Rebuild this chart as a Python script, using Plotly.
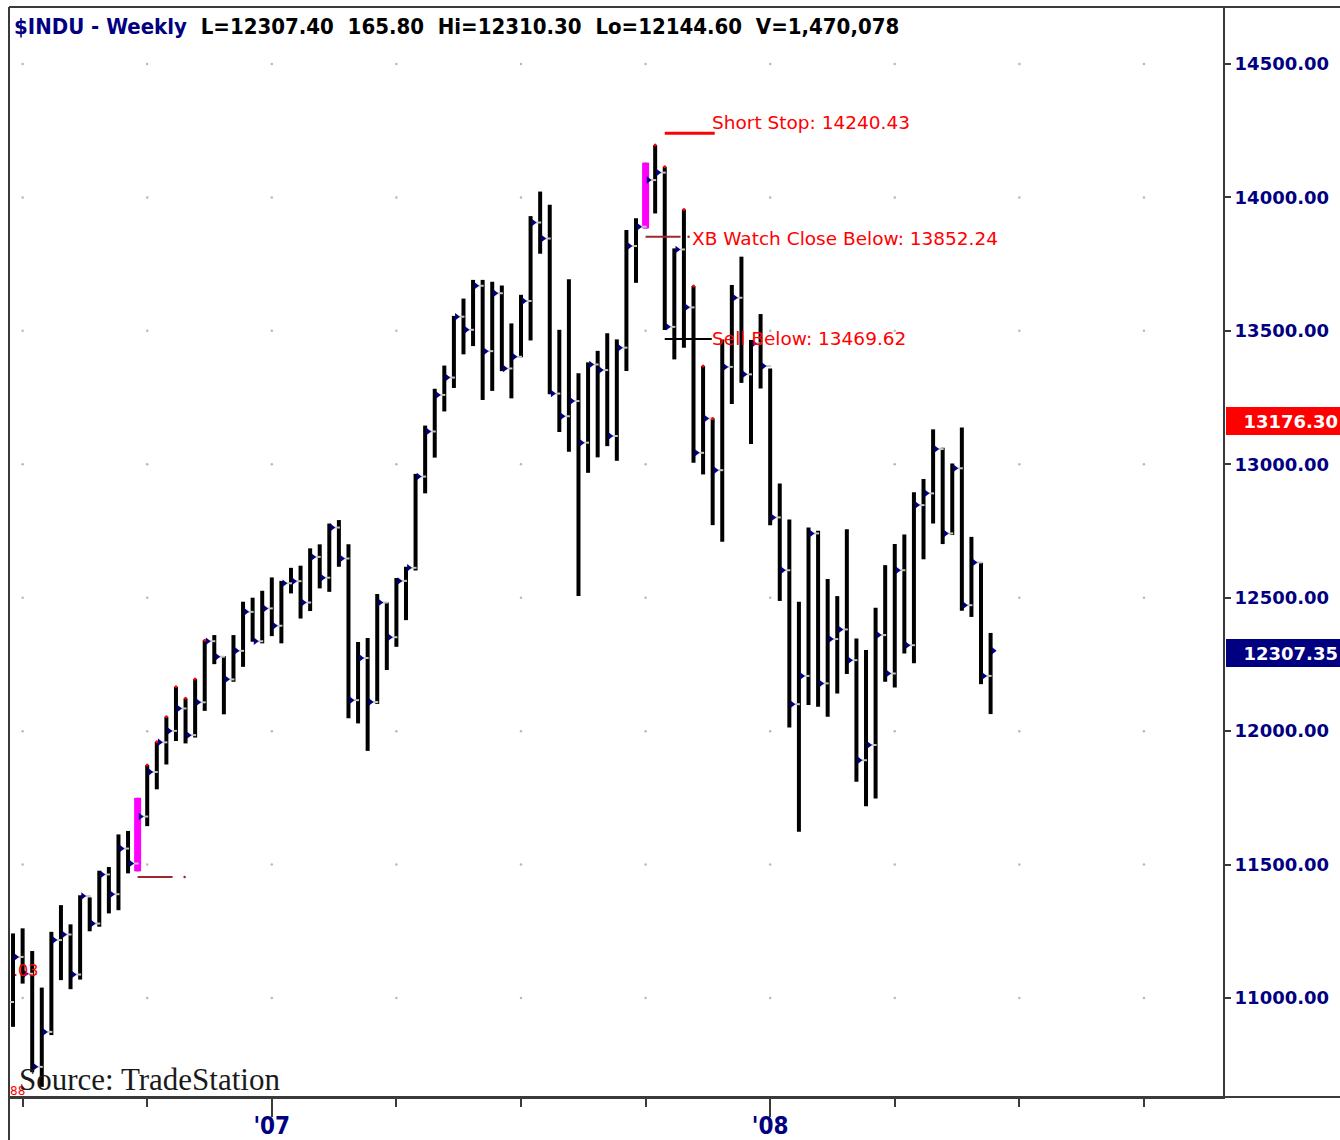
import pandas as pd
import plotly.graph_objects as go

# weekly $INDU bars, week ending Friday
weeks = pd.date_range("2006-06-30", periods=103, freq="W-FRI")

highs = [11242, 11261, 11176, 11039, 11248, 11348, 11276, 11385, 11377, 11477,
         11491, 11613, 11626, 11750, 11873, 11960, 12054, 12166, 12123, 12195,
         12341, 12360, 12281, 12360, 12485, 12500, 12526, 12576, 12563, 12612,
         12620, 12685, 12700, 12778, 12791, 12700, 12334, 12349, 12514, 12482,
         12574, 12616, 12964, 13145, 13283, 13370, 13556, 13621, 13691, 13691,
         13684, 13670, 13528, 13635, 13930, 14022, 13973, 13504, 13693, 13341,
         13382, 13425, 13491, 13468, 13878, 13922, 14130, 14196, 14115, 13809,
         13955, 13668, 13368, 13172, 13468, 13672, 13778, 13466, 13563, 13359,
         12928, 12793, 12485, 12763, 12751, 12570, 12506, 12757, 12347, 12304,
         12462, 12622, 12701, 12737, 12895, 12945, 13131, 13062, 13003, 13138,
         12728, 12631, 12368]
lows = [10892, 11054, 10722, 10667, 10861, 11067, 11033, 11069, 11250, 11267,
        11317, 11329, 11467, 11475, 11644, 11782, 11875, 11963, 11954, 11976,
        12076, 12251, 12063, 12185, 12241, 12335, 12329, 12356, 12329, 12516,
        12422, 12450, 12535, 12522, 12616, 12048, 12029, 11926, 12102, 12229,
        12316, 12416, 12602, 12891, 13025, 13198, 13286, 13412, 13443, 13241,
        13275, 13349, 13247, 13401, 13464, 13789, 13262, 13121, 13047, 12506,
        12968, 13026, 13068, 13013, 13350, 13680, 13884, 13940, 13503, 13393,
        13437, 13006, 12962, 12772, 12710, 13226, 13305, 13076, 13284, 12772,
        12488, 12014, 11623, 12098, 12091, 12054, 12141, 12214, 11810, 11719,
        11748, 12185, 12164, 12291, 12254, 12644, 12778, 12701, 12735, 12451,
        12428, 12176, 12064]
closes = [11154, 11091, 10742, 10873, 11217, 11238, 11088, 11382, 11279, 11463,
          11389, 11560, 11504, 11680, 11847, 11958, 12001, 12085, 11985, 12108,
          12337, 12279, 12194, 12301, 12447, 12337, 12460, 12395, 12554, 12562,
          12482, 12653, 12575, 12763, 12647, 12116, 12274, 12109, 12482, 12352,
          12563, 12612, 12954, 13123, 13260, 13325, 13553, 13504, 13669, 13424,
          13641, 13359, 13403, 13612, 13906, 13846, 13265, 13180, 13237, 13081,
          13374, 13353, 13106, 13437, 13818, 13890, 14065, 14093, 13515, 13805,
          13588, 13043, 13172, 12978, 13365, 13624, 13337, 13453, 13368, 12801,
          12603, 12101, 12207, 12741, 12179, 12345, 12381, 12266, 11891, 11948,
          12360, 12216, 12603, 12322, 12847, 12891, 13057, 12741, 12985, 12472,
          12632, 12207, 12301]
opens = [10985, 11154, 11091, 10742, 10873, 11217, 11238, 11088, 11382, 11279,
         11463, 11389, 11560, 11504, 11680, 11847, 11958, 12001, 12085, 11985,
         12108, 12337, 12279, 12194, 12301, 12447, 12337, 12460, 12395, 12554,
         12562, 12482, 12653, 12575, 12763, 12647, 12116, 12274, 12109, 12482,
         12352, 12563, 12612, 12954, 13123, 13260, 13325, 13553, 13504, 13669,
         13424, 13641, 13359, 13403, 13612, 13906, 13846, 13265, 13180, 13237,
         13081, 13374, 13353, 13106, 13437, 13818, 13890, 14065, 14093, 13515,
         13805, 13588, 13043, 13172, 12978, 13365, 13624, 13337, 13453, 13368,
         12801, 12603, 12101, 12207, 12741, 12179, 12345, 12381, 12266, 11891,
         11948, 12360, 12216, 12603, 12322, 12847, 12891, 13057, 12741, 12985,
         12472, 12632, 12207]

paint_bars = [13, 66]  # magenta ShowMe bars
high_dots = [14, 15, 16, 17, 18, 19, 20, 67, 68, 70, 71, 72, 73]

price_levels = [11000, 11500, 12000, 12500, 13000, 13500, 14000, 14500]
quarter_ticks = ["2006-07-07", "2006-10-06", "2007-01-05", "2007-04-06", "2007-07-06",
                 "2007-10-05", "2008-01-04", "2008-04-04", "2008-07-04", "2008-10-03"]
year_ticks = ["2007-01-05", "2008-01-04"]
year_labels = ["'07", "'08"]

xb_old = 11453.50
xb_watch = 13852.24
short_stop = 14240.43
sell_below = 13469.62
marker_price = 13176.30
last_price = 12307.35

header = ('<span style="color:#000080">$INDU - Weekly</span>\u00a0\u00a0'
          'L=12307.40\u00a0\u00a0165.80\u00a0\u00a0Hi=12310.30\u00a0\u00a0'
          'Lo=12144.60\u00a0\u00a0V=1,470,078')

# ---- geometry (pixels of the 1340x1140 page)
W, H = 1340, 1140
L_PX, R_PX, T_PX, B_PX = 9, 1223, 7, 1097
PX_DAY = 9.584 / 7
ref = pd.Timestamp("2007-01-05")
REF_PX = 271.8
x_range = [ref - pd.Timedelta(days=(REF_PX - L_PX) / PX_DAY),
           ref + pd.Timedelta(days=(R_PX - REF_PX) / PX_DAY)]
pts_px = 3500 / 934
y_range = [11000 - (B_PX - 998) * pts_px, 14500 + (64 - T_PX) * pts_px]


def dpx(px):
    return pd.Timedelta(days=px / PX_DAY)


def px_x(px):
    return (px - L_PX) / (R_PX - L_PX)


def px_y(py):
    return (B_PX - py) / (B_PX - T_PX)


fig = go.Figure()

# grid dots at tick intersections
gx, gy = [], []
for q in quarter_ticks:
    for lv in price_levels:
        gx.append(pd.Timestamp(q))
        gy.append(lv)
fig.add_trace(go.Scatter(x=gx, y=gy, mode="markers",
                         marker=dict(size=2.5, color="#b8b8b8"), hoverinfo="skip"))

# high-low bars
bx, by = [], []
for d, h, l in zip(weeks, highs, lows):
    bx += [d, d, None]
    by += [l, h, None]
fig.add_trace(go.Scatter(x=bx, y=by, mode="lines",
                         line=dict(color="black", width=4), hoverinfo="skip"))

# magenta paint bars
mx, my = [], []
for i in paint_bars:
    mx += [weeks[i], weeks[i], None]
    my += [lows[i], highs[i], None]
fig.add_trace(go.Scatter(x=mx, y=my, mode="lines",
                         line=dict(color="#ff00ff", width=7), hoverinfo="skip"))

# open ticks (left) and close markers (right)
fig.add_trace(go.Scatter(x=weeks - dpx(2.5), y=opens, mode="markers",
                         marker=dict(symbol="line-ew", size=5,
                                     line=dict(color="#c8c8c8", width=2)),
                         hoverinfo="skip"))
fig.add_trace(go.Scatter(x=weeks + dpx(2.8), y=closes, mode="markers",
                         marker=dict(symbol="triangle-right", size=6.5, color="#000080"),
                         hoverinfo="skip"))
fig.add_trace(go.Scatter(x=[weeks[i] for i in high_dots], y=[highs[i] for i in high_dots],
                         mode="markers", marker=dict(size=3, color="#ff0000"),
                         hoverinfo="skip"))

# signal lines
dark_red = "#a0282d"
lines = [
    (xb_old, 13, 35, dark_red, 2, 47),
    (xb_watch, 66, 35, dark_red, 2, 43),
    (short_stop, 68, 50, "#ff0000", 3, None),
    (sell_below, 68, 47, "#000000", 2, None),
]
for val, bar, length, col, wd, dot in lines:
    x0 = weeks[bar]
    fig.add_trace(go.Scatter(x=[x0, x0 + dpx(length)], y=[val, val], mode="lines",
                             line=dict(color=col, width=wd), hoverinfo="skip"))
    if dot:
        fig.add_trace(go.Scatter(x=[x0 + dpx(dot)], y=[val], mode="markers",
                                 marker=dict(size=2.5, color=col), hoverinfo="skip"))

sig_font = dict(family="DejaVu Sans", size=18.5, color="#ff0000")
fig.add_annotation(x=weeks[68] + dpx(45), y=short_stop, text="Short Stop: 14240.43",
                   xanchor="left", yanchor="middle", yshift=11, showarrow=False, font=sig_font)
fig.add_annotation(x=weeks[66] + dpx(44), y=xb_watch, text="XB Watch Close Below: 13852.24",
                   xanchor="left", yanchor="middle", yshift=-2, showarrow=False, font=sig_font)
fig.add_annotation(x=weeks[68] + dpx(45), y=sell_below, text="Sell Below: 13469.62",
                   xanchor="left", yanchor="middle", yshift=0, showarrow=False, font=sig_font)

# stray clipped labels at left edge
fig.add_annotation(x=px_x(11), y=px_y(970), xref="paper", yref="paper", text=".03",
                   xanchor="left", yanchor="middle", showarrow=False,
                   font=dict(family="DejaVu Sans", size=16, color="#ff0000"))
fig.add_annotation(x=px_x(8), y=px_y(1091), xref="paper", yref="paper", text="88",
                   xanchor="left", yanchor="middle", showarrow=False,
                   font=dict(family="DejaVu Sans", size=12, color="#ff0000"))

fig.add_annotation(x=px_x(17), y=px_y(1079), xref="paper", yref="paper",
                   text="Source: TradeStation", xanchor="left", yanchor="middle",
                   showarrow=False,
                   font=dict(family="Liberation Serif", size=31, color="#1a1a1a"))

fig.add_annotation(x=px_x(12), y=px_y(26), xref="paper", yref="paper", text=header,
                   xanchor="left", yanchor="middle", showarrow=False,
                   font=dict(family="Liberation Sans Narrow, DejaVu Sans Condensed, Arial Narrow",
                             size=22, color="#000000", weight="bold"))

# price tags on the right axis
for val, txt, bg in [(marker_price, "13176.30", "#ff0000"), (last_price, "12307.35", "#000080")]:
    fig.add_annotation(x=px_x(1226), y=val, xref="paper", yref="y", text=txt,
                       xanchor="left", yanchor="middle", yshift=-4, showarrow=False,
                       width=110, height=24, align="right", bgcolor=bg, borderpad=2,
                       borderwidth=0,
                       font=dict(family="DejaVu Sans", size=18, color="white", weight="bold"))

# frame lines
frame = "#3a3a3a"
fig.add_shape(type="line", xref="paper", yref="paper", x0=0, x1=px_x(1345),
              y0=1, y1=1, line=dict(color=frame, width=2))
fig.add_shape(type="line", xref="paper", yref="paper", x0=0, x1=0,
              y0=px_y(1145), y1=1, line=dict(color=frame, width=2))
fig.add_shape(type="line", xref="paper", yref="paper", x0=0, x1=px_x(1345),
              y0=0, y1=0, line=dict(color=frame, width=2))

fig.update_layout(
    width=W, height=H, template="none",
    margin=dict(l=L_PX, r=W - R_PX, t=T_PX, b=H - B_PX, pad=0),
    paper_bgcolor="white", plot_bgcolor="white",
    showlegend=False, hovermode=False,
    xaxis=dict(type="date", range=x_range, showgrid=False, zeroline=False,
               showline=True, linecolor=frame, linewidth=2, automargin=False,
               tickvals=year_ticks, ticktext=year_labels, ticks="outside",
               ticklen=18, tickwidth=2, tickcolor=frame, ticklabelstandoff=-12,
               tickfont=dict(family="Liberation Sans Narrow, DejaVu Sans Condensed",
                             size=24, color="#000080", weight="bold"),
               minor=dict(tickvals=quarter_ticks, ticks="outside", ticklen=8,
                          tickwidth=2, tickcolor=frame, showgrid=False)),
    yaxis=dict(side="right", range=y_range, showgrid=False, zeroline=False,
               showline=True, linecolor=frame, linewidth=2, automargin=False,
               tickvals=price_levels, tickformat=".2f", ticks="outside",
               ticklen=6, tickwidth=1.5, tickcolor=frame,
               tickfont=dict(family="DejaVu Sans", size=18, color="#000080", weight="bold")),
)

# page body has an 8px default margin; drop it so the figure fills the window
fig.write_html("out.html", config={"displayModeBar": False},
               post_script="document.body.style.margin='0';")
